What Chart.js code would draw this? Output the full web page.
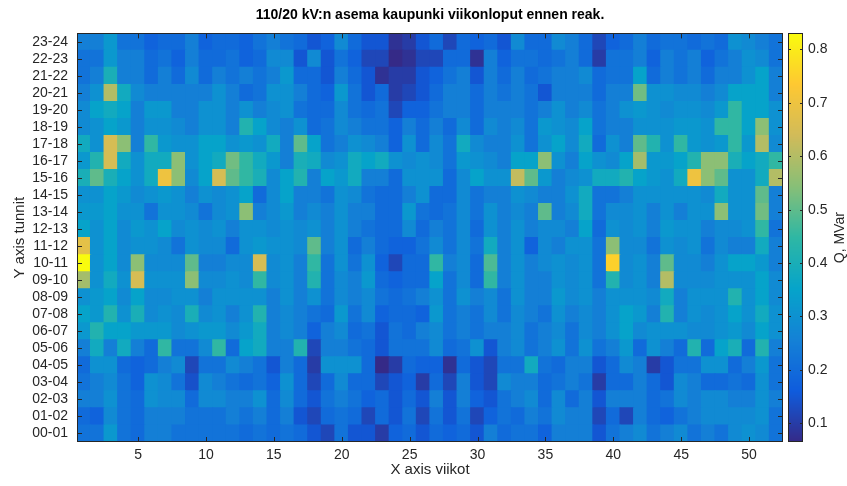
<!DOCTYPE html>
<html lang="fi">
<head>
<meta charset="UTF-8">
<title>110/20 kV:n asema kaupunki viikonloput</title>
<script src="https://cdn.jsdelivr.net/npm/chart.js"></script>
<style>
  body { margin: 0; background: #fff; }
  #wrap { position: relative; width: 847px; height: 486px; }
</style>
</head>
<body>
<div id="wrap"><canvas id="myChart"></canvas></div>
<script>
// viikot 1..52 ja tunnit 00-01 .. 23-24
const weeks = Array.from({ length: 52 }, (_, i) => String(i + 1));
const hours = ['00-01','01-02','02-03','03-04','04-05','05-06','06-07','07-08','08-09','09-10','10-11','11-12',
               '12-13','13-14','14-15','15-16','16-17','17-18','18-19','19-20','20-21','21-22','22-23','23-24'];
const weekTicks = [5, 10, 15, 20, 25, 30, 35, 40, 45, 50];
const qTicks = [0.1, 0.2, 0.3, 0.4, 0.5, 0.6, 0.7, 0.8];

// Q (MVar), one row per hour, weeks 1..52
const q00 = [0.22,0.22,0.32,0.22,0.2,0.25,0.25,0.22,0.22,0.22,0.22,0.22,0.2, 0.22,0.2,0.22,0.2,0.15,0.12,0.22,0.15,0.15,0.1,0.18,0.2,0.15, 0.2,0.18,0.2,0.15,0.25,0.2,0.22,0.22,0.18,0.25,0.25,0.25,0.15, 0.22,0.25,0.28,0.22,0.25,0.28,0.22,0.25,0.22,0.28,0.3,0.28,0.22];
const q01 = [0.2,0.18,0.28,0.22,0.2,0.25,0.25,0.25,0.22,0.22,0.22,0.25,0.22, 0.25,0.2,0.25,0.15,0.12,0.2,0.22,0.2,0.12,0.2,0.15,0.22,0.12, 0.22,0.15,0.22,0.12,0.18,0.22,0.2,0.25,0.22,0.28,0.25,0.25,0.12, 0.2,0.12,0.25,0.2,0.18,0.22,0.25,0.28,0.28,0.28,0.28,0.3,0.22];
const q02 = [0.25,0.25,0.3,0.22,0.2,0.3,0.28,0.28,0.2,0.28,0.28,0.25,0.25, 0.3,0.2,0.28,0.2,0.15,0.22,0.25,0.22,0.18,0.2,0.15,0.2,0.15, 0.25,0.15,0.25,0.18,0.15,0.22,0.25,0.28,0.2,0.28,0.2,0.25,0.15, 0.25,0.25,0.25,0.2,0.22,0.28,0.25,0.28,0.28,0.25,0.25,0.3,0.25];
const q03 = [0.22,0.25,0.28,0.22,0.18,0.3,0.28,0.22,0.14,0.28,0.25,0.22,0.2, 0.22,0.18,0.3,0.2,0.12,0.2,0.28,0.2,0.2,0.12,0.15,0.18,0.1, 0.2,0.12,0.25,0.15,0.12,0.28,0.25,0.25,0.2,0.22,0.25,0.22,0.1, 0.2,0.2,0.25,0.2,0.15,0.28,0.25,0.2,0.2,0.22,0.2,0.3,0.22];
const q04 = [0.2,0.3,0.3,0.2,0.18,0.2,0.25,0.28,0.12,0.22,0.22,0.28,0.25, 0.22,0.15,0.25,0.2,0.1,0.3,0.3,0.3,0.2,0.065,0.1,0.2,0.18, 0.18,0.08,0.2,0.15,0.12,0.22,0.22,0.38,0.22,0.2,0.25,0.25,0.15, 0.2,0.28,0.25,0.1,0.15,0.22,0.22,0.3,0.3,0.2,0.25,0.32,0.22];
const q05 = [0.25,0.38,0.25,0.38,0.25,0.2,0.45,0.22,0.22,0.28,0.45,0.2,0.35, 0.38,0.25,0.25,0.42,0.12,0.25,0.25,0.22,0.2,0.15,0.22,0.22,0.22, 0.28,0.2,0.22,0.3,0.15,0.25,0.28,0.22,0.25,0.3,0.22,0.3,0.22, 0.25,0.32,0.2,0.3,0.25,0.2,0.42,0.2,0.35,0.4,0.2,0.42,0.25];
const q06 = [0.32,0.42,0.35,0.35,0.32,0.32,0.32,0.28,0.3,0.32,0.32,0.28,0.32, 0.38,0.25,0.28,0.25,0.18,0.25,0.28,0.2,0.22,0.15,0.22,0.2,0.25, 0.28,0.22,0.25,0.22,0.25,0.25,0.28,0.22,0.25,0.28,0.22,0.28,0.25, 0.3,0.35,0.28,0.3,0.3,0.3,0.28,0.28,0.3,0.32,0.28,0.35,0.3];
const q07 = [0.35,0.32,0.42,0.3,0.4,0.28,0.3,0.28,0.4,0.28,0.3,0.25,0.3, 0.42,0.25,0.28,0.25,0.22,0.2,0.32,0.22,0.28,0.18,0.2,0.2,0.18, 0.32,0.22,0.25,0.22,0.28,0.22,0.28,0.25,0.22,0.3,0.25,0.28,0.25, 0.3,0.35,0.32,0.25,0.42,0.25,0.3,0.28,0.3,0.35,0.3,0.38,0.3];
const q08 = [0.3,0.32,0.35,0.28,0.35,0.28,0.28,0.3,0.3,0.25,0.3,0.3,0.3, 0.3,0.25,0.3,0.25,0.3,0.22,0.28,0.25,0.28,0.22,0.2,0.22,0.25, 0.3,0.22,0.3,0.25,0.28,0.22,0.3,0.25,0.25,0.32,0.28,0.3,0.25, 0.3,0.3,0.3,0.28,0.38,0.25,0.3,0.3,0.3,0.42,0.3,0.35,0.28];
const q09 = [0.58,0.3,0.38,0.3,0.65,0.3,0.3,0.3,0.55,0.28,0.28,0.3,0.28, 0.45,0.28,0.3,0.25,0.42,0.22,0.28,0.25,0.32,0.2,0.18,0.2,0.2, 0.35,0.22,0.28,0.2,0.45,0.25,0.3,0.25,0.25,0.3,0.28,0.3,0.22, 0.42,0.28,0.3,0.25,0.6,0.28,0.28,0.28,0.3,0.3,0.3,0.35,0.28];
const q10 = [0.83,0.3,0.35,0.28,0.55,0.28,0.28,0.28,0.5,0.25,0.25,0.28,0.28, 0.65,0.28,0.3,0.25,0.45,0.22,0.3,0.22,0.3,0.18,0.12,0.2,0.2, 0.45,0.25,0.28,0.2,0.48,0.25,0.3,0.25,0.28,0.3,0.28,0.3,0.22, 0.75,0.28,0.3,0.25,0.5,0.28,0.28,0.25,0.3,0.35,0.35,0.32,0.25];
const q11 = [0.68,0.3,0.35,0.28,0.3,0.3,0.28,0.22,0.3,0.28,0.28,0.2,0.3, 0.32,0.3,0.3,0.28,0.5,0.25,0.3,0.2,0.25,0.2,0.18,0.18,0.22, 0.28,0.22,0.28,0.22,0.38,0.25,0.3,0.18,0.28,0.25,0.3,0.3,0.22, 0.55,0.28,0.28,0.22,0.3,0.28,0.3,0.22,0.28,0.25,0.25,0.38,0.25];
const q12 = [0.35,0.3,0.35,0.28,0.32,0.3,0.35,0.28,0.3,0.28,0.3,0.25,0.3, 0.3,0.28,0.3,0.28,0.3,0.25,0.3,0.25,0.22,0.2,0.2,0.28,0.2, 0.25,0.22,0.28,0.2,0.3,0.25,0.3,0.25,0.28,0.28,0.25,0.35,0.2, 0.3,0.28,0.3,0.25,0.32,0.3,0.3,0.25,0.28,0.28,0.3,0.45,0.22];
const q13 = [0.32,0.32,0.35,0.3,0.3,0.22,0.3,0.3,0.28,0.22,0.28,0.3,0.55, 0.25,0.28,0.32,0.25,0.28,0.25,0.3,0.25,0.25,0.2,0.2,0.32,0.22, 0.2,0.22,0.28,0.22,0.3,0.25,0.28,0.25,0.5,0.25,0.28,0.38,0.22, 0.28,0.28,0.3,0.25,0.3,0.25,0.3,0.3,0.55,0.3,0.3,0.52,0.25];
const q14 = [0.3,0.3,0.35,0.32,0.28,0.3,0.32,0.3,0.25,0.3,0.28,0.3,0.35, 0.2,0.28,0.35,0.25,0.25,0.22,0.3,0.28,0.22,0.2,0.2,0.25,0.3, 0.2,0.2,0.28,0.22,0.25,0.25,0.3,0.28,0.25,0.25,0.3,0.38,0.22, 0.22,0.25,0.3,0.3,0.3,0.3,0.3,0.28,0.38,0.3,0.3,0.5,0.25];
const q15 = [0.4,0.5,0.4,0.35,0.3,0.38,0.7,0.55,0.28,0.35,0.65,0.5,0.45, 0.4,0.28,0.35,0.42,0.25,0.35,0.32,0.38,0.25,0.25,0.2,0.3,0.3, 0.3,0.2,0.28,0.35,0.3,0.3,0.62,0.5,0.32,0.25,0.28,0.3,0.38, 0.38,0.42,0.35,0.32,0.3,0.38,0.7,0.55,0.5,0.3,0.3,0.38,0.6];
const q16 = [0.32,0.42,0.65,0.38,0.3,0.38,0.38,0.55,0.3,0.35,0.38,0.52,0.45, 0.38,0.32,0.25,0.4,0.38,0.28,0.3,0.38,0.35,0.38,0.3,0.28,0.3, 0.28,0.22,0.32,0.3,0.28,0.25,0.35,0.35,0.55,0.3,0.25,0.35,0.3, 0.28,0.35,0.58,0.32,0.32,0.35,0.42,0.55,0.55,0.4,0.35,0.38,0.45];
const q17 = [0.38,0.3,0.65,0.55,0.25,0.45,0.32,0.3,0.3,0.35,0.35,0.3,0.32, 0.3,0.38,0.25,0.5,0.35,0.22,0.25,0.3,0.28,0.25,0.18,0.3,0.2, 0.28,0.22,0.38,0.28,0.25,0.25,0.3,0.22,0.3,0.35,0.28,0.38,0.2, 0.3,0.25,0.5,0.42,0.3,0.45,0.32,0.3,0.32,0.45,0.32,0.6,0.28];
const q18 = [0.28,0.3,0.35,0.32,0.25,0.3,0.3,0.28,0.25,0.3,0.3,0.25,0.42, 0.35,0.28,0.25,0.3,0.2,0.22,0.28,0.25,0.22,0.22,0.18,0.25,0.2, 0.25,0.2,0.28,0.2,0.28,0.25,0.28,0.22,0.32,0.3,0.28,0.35,0.22, 0.25,0.25,0.3,0.3,0.3,0.32,0.32,0.3,0.45,0.45,0.35,0.55,0.3];
const q19 = [0.28,0.35,0.38,0.35,0.25,0.32,0.32,0.25,0.25,0.3,0.3,0.25,0.3, 0.25,0.28,0.3,0.22,0.2,0.2,0.28,0.22,0.2,0.22,0.12,0.18,0.18, 0.22,0.25,0.25,0.2,0.25,0.25,0.25,0.22,0.25,0.3,0.25,0.28,0.22, 0.25,0.3,0.32,0.3,0.28,0.3,0.3,0.28,0.32,0.45,0.35,0.35,0.3];
const q20 = [0.25,0.3,0.6,0.38,0.28,0.25,0.25,0.25,0.25,0.25,0.3,0.25,0.2, 0.22,0.3,0.3,0.25,0.2,0.18,0.32,0.22,0.15,0.2,0.1,0.12,0.15, 0.2,0.25,0.25,0.2,0.25,0.22,0.25,0.22,0.15,0.25,0.25,0.25,0.2, 0.25,0.25,0.52,0.3,0.3,0.28,0.28,0.25,0.28,0.35,0.35,0.35,0.25];
const q21 = [0.22,0.25,0.4,0.25,0.25,0.2,0.25,0.2,0.28,0.2,0.25,0.22,0.25, 0.22,0.25,0.32,0.2,0.2,0.15,0.25,0.2,0.15,0.08,0.1,0.1,0.15, 0.18,0.22,0.25,0.15,0.25,0.2,0.25,0.2,0.22,0.25,0.25,0.28,0.2, 0.22,0.22,0.35,0.2,0.25,0.22,0.25,0.2,0.25,0.25,0.3,0.35,0.25];
const q22 = [0.22,0.22,0.32,0.25,0.25,0.2,0.22,0.18,0.25,0.2,0.2,0.22,0.18, 0.2,0.28,0.28,0.15,0.28,0.15,0.22,0.18,0.12,0.12,0.065,0.08,0.12, 0.12,0.2,0.2,0.08,0.25,0.18,0.22,0.22,0.2,0.22,0.25,0.2,0.1, 0.22,0.22,0.25,0.18,0.25,0.22,0.25,0.18,0.22,0.25,0.3,0.28,0.22];
const q23 = [0.25,0.25,0.32,0.22,0.22,0.18,0.2,0.2,0.25,0.18,0.2,0.2,0.18, 0.22,0.25,0.22,0.2,0.15,0.18,0.28,0.2,0.15,0.15,0.08,0.1,0.15, 0.2,0.12,0.2,0.18,0.2,0.15,0.28,0.2,0.2,0.28,0.25,0.2,0.12, 0.18,0.2,0.25,0.2,0.22,0.22,0.2,0.22,0.2,0.3,0.28,0.25,0.22];

const qRows = [q00,q01,q02,q03,q04,q05,q06,q07,q08,q09,q10,q11,q12,q13,q14,q15,q16,q17,q18,q19,q20,q21,q22,q23];

// parula colormap, 9 stops
const parula = [[53,42,135],[15,92,221],[20,129,214],[6,164,202],[46,183,164],[135,191,119],[209,187,89],[254,200,50],[249,251,14]];
const qMin = Math.min(...qRows.flat());
const qMax = Math.max(...qRows.flat());

function parulaColor(v) {
    let t = (v - qMin) / (qMax - qMin);
    t = Math.max(0, Math.min(1, t)) * (parula.length - 1);
    const i = Math.min(Math.floor(t), parula.length - 2);
    const f = t - i;
    const a = parula[i], b = parula[i + 1];
    const c = a.map((x, k) => Math.round(x + (b[k] - x) * f));
    return 'rgb(' + c.join(',') + ')';
}

const axisColor = '#262626';
const fontFamily = '"Liberation Sans", Arial, Helvetica, sans-serif';

// frame, inner tick marks, colorbar and title
const matlabFrame = {
    id: 'matlabFrame',
    afterDraw(chart) {
        const ctx = chart.ctx;
        const a = chart.chartArea;
        const xs = chart.scales.x, ys = chart.scales.y, cb = chart.scales.cb;
        ctx.save();
        ctx.strokeStyle = axisColor;
        ctx.lineWidth = 1;
        ctx.beginPath();
        hours.forEach((h, i) => {
            const y = Math.round(ys.getPixelForValue(i + 0.5)) + 0.5;
            ctx.moveTo(a.left, y); ctx.lineTo(a.left + 5, y);
            ctx.moveTo(a.right, y); ctx.lineTo(a.right - 5, y);
        });
        weekTicks.forEach(w => {
            const x = Math.round(xs.getPixelForValue(w - 1)) + 0.5;
            ctx.moveTo(x, a.bottom); ctx.lineTo(x, a.bottom - 5);
            ctx.moveTo(x, a.top); ctx.lineTo(x, a.top + 5);
        });
        ctx.stroke();
        ctx.strokeRect(Math.round(a.left) + 0.5, Math.round(a.top) + 0.5,
                       Math.round(a.right - a.left) - 1, Math.round(a.bottom - a.top) - 1);

        // colorbar
        const x0 = cb.left + 5, x1 = cb.left + 20;
        for (let y = Math.floor(cb.top); y < cb.bottom; y++) {
            ctx.fillStyle = parulaColor(cb.getValueForPixel(y + 0.5));
            ctx.fillRect(x0, y, x1 - x0, 1);
        }
        ctx.strokeRect(x0 + 0.5, Math.round(cb.top) + 0.5, x1 - x0 - 1, Math.round(cb.bottom - cb.top) - 1);
        ctx.beginPath();
        qTicks.forEach(v => {
            const y = Math.round(cb.getPixelForValue(v)) + 0.5;
            ctx.moveTo(x0, y); ctx.lineTo(x0 + 3, y);
            ctx.moveTo(x1, y); ctx.lineTo(x1 - 3, y);
        });
        ctx.stroke();

        // colorbar label
        ctx.fillStyle = axisColor;
        ctx.font = '14px ' + fontFamily;
        ctx.textAlign = 'center';
        ctx.textBaseline = 'middle';
        ctx.translate(840, (cb.top + cb.bottom) / 2);
        ctx.rotate(-Math.PI / 2);
        ctx.fillText('Q, MVar', 0, 0);
        ctx.restore();

        // title
        ctx.save();
        ctx.fillStyle = '#000';
        ctx.font = 'bold 14px ' + fontFamily;
        ctx.textAlign = 'center';
        ctx.textBaseline = 'middle';
        ctx.fillText('110/20 kV:n asema kaupunki viikonloput ennen reak.', (a.left + a.right) / 2, 15);
        ctx.restore();
    }
};

const datasets = qRows.map((row, i) => ({
    label: hours[i],
    data: row.map(() => 1),
    backgroundColor: row.map(parulaColor),
    borderWidth: 0,
    barPercentage: 1,
    categoryPercentage: 1,
    inflateAmount: 0.6
}));

const ctx = document.getElementById('myChart');
const myChart = new Chart(ctx, {
    type: 'bar',
    data: { labels: weeks, datasets: datasets },
    plugins: [matlabFrame],
    options: {
        responsive: true,
        maintainAspectRatio: false,
        animation: false,
        layout: { padding: { top: 32, left: 0, right: 0, bottom: 0 } },
        plugins: { legend: { display: false }, tooltip: { enabled: false }, title: { display: false } },
        scales: {
            x: {
                stacked: true,
                grid: { display: false, drawTicks: false },
                border: { display: false },
                afterFit: s => { s.height = 44; },
                afterBuildTicks: s => { s.ticks = weekTicks.map(w => ({ value: w - 1 })); },
                ticks: {
                    autoSkip: false, maxRotation: 0, padding: 5,
                    color: axisColor, font: { size: 14, family: fontFamily },
                    callback: function (v) { return this.getLabelForValue(v); }
                },
                title: { display: true, text: 'X axis viikot', color: axisColor,
                         font: { size: 15, family: fontFamily }, padding: { top: 0, bottom: 7 } }
            },
            y: {
                stacked: true, min: 0, max: 24,
                grid: { display: false, drawTicks: false },
                border: { display: false },
                afterFit: s => { s.width = 77; },
                afterBuildTicks: s => { s.ticks = hours.map((h, i) => ({ value: i + 0.5 })); },
                ticks: {
                    autoSkip: false, padding: 9,
                    color: axisColor, font: { size: 14, family: fontFamily },
                    callback: v => hours[Math.floor(v)]
                },
                title: { display: true, text: 'Y axis tunnit', color: axisColor,
                         font: { size: 15, family: fontFamily }, padding: { top: 11, bottom: 0 } }
            },
            cb: {
                type: 'linear', position: 'right', min: qMin, max: qMax,
                grid: { display: false, drawTicks: false },
                border: { display: false },
                afterFit: s => { s.width = 64; },
                afterBuildTicks: s => { s.ticks = qTicks.map(v => ({ value: v })); },
                ticks: {
                    padding: 25, color: axisColor, font: { size: 14, family: fontFamily },
                    callback: v => v.toFixed(1)
                }
            }
        }
    }
});
</script>
</body>
</html>
